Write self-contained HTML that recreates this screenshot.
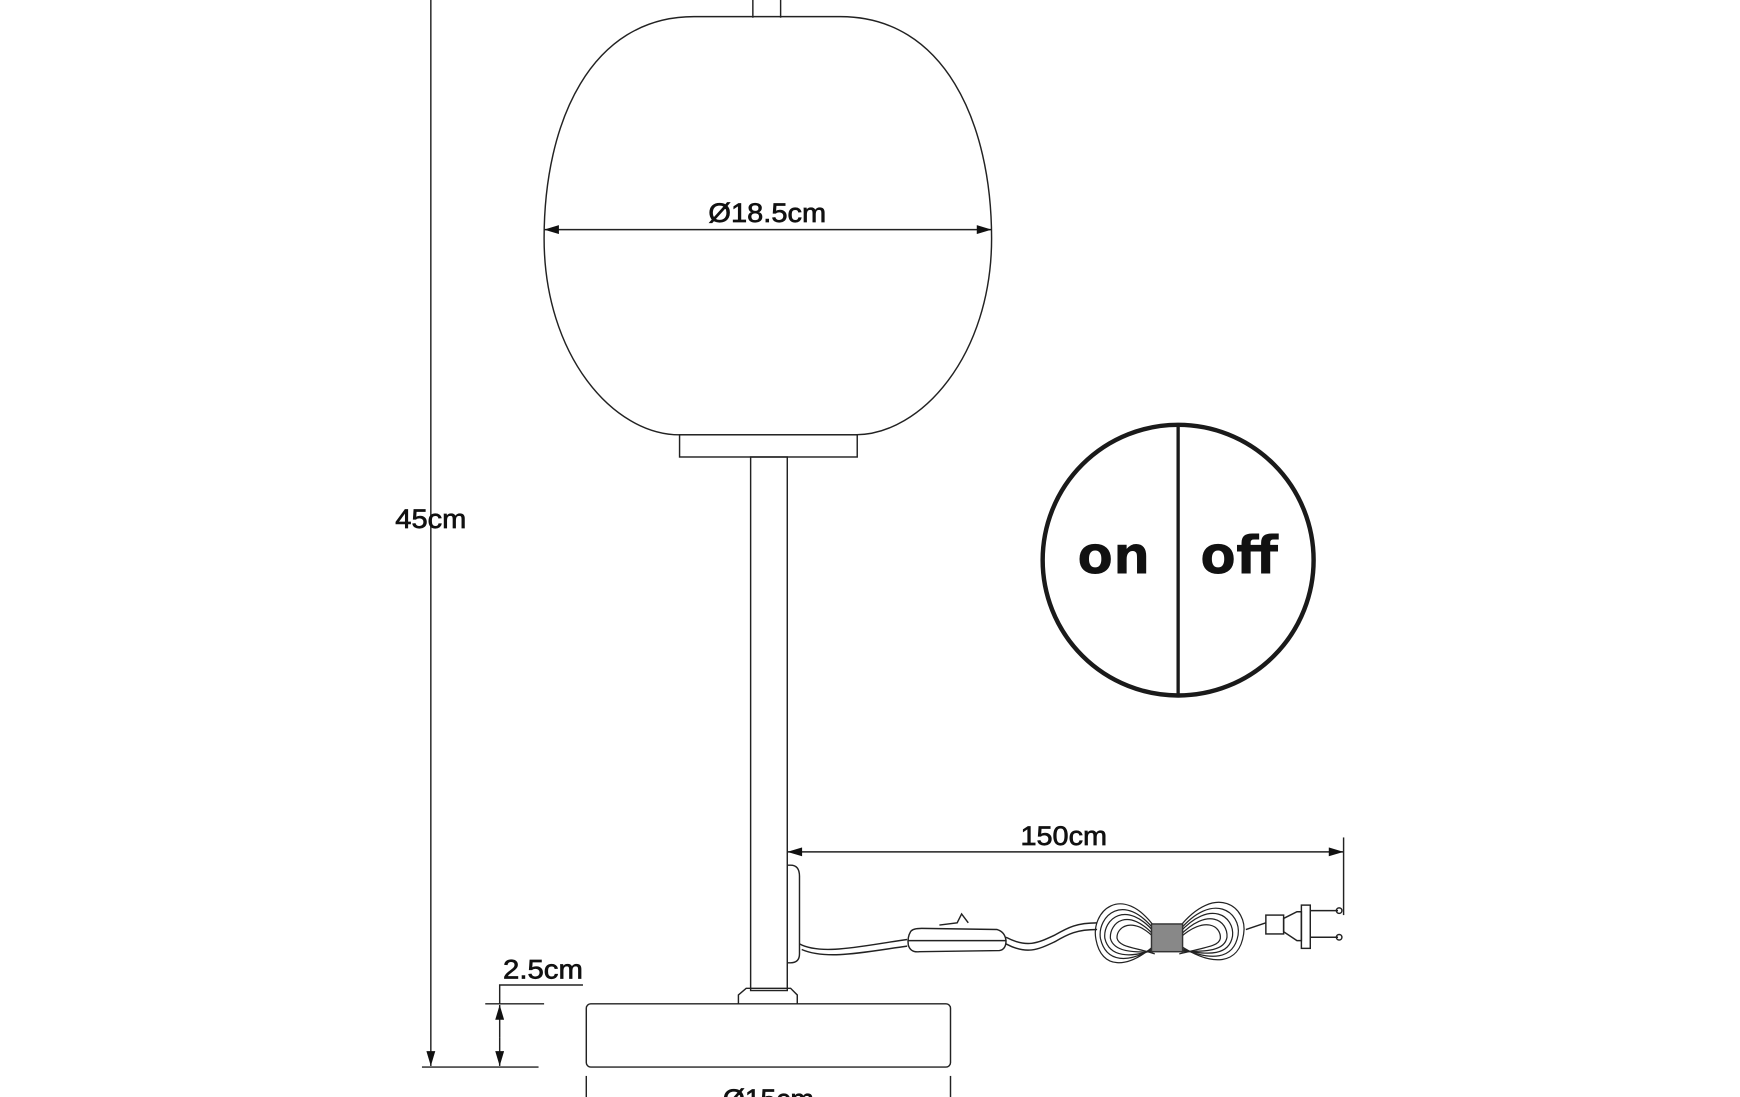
<!DOCTYPE html>
<html><head><meta charset="utf-8"><style>
html,body{margin:0;padding:0;background:#fff;}
svg{display:block;}
text{font-family:"Liberation Sans",sans-serif;fill:#111;}
</style></head><body>
<svg width="1740" height="1097" viewBox="0 0 1567 989" preserveAspectRatio="none" xmlns="http://www.w3.org/2000/svg">
<defs>
<marker id="a" viewBox="0 0 10 6" refX="10" refY="3" markerWidth="18" markerHeight="8" markerUnits="userSpaceOnUse" orient="auto-start-reverse"><path d="M0,0 L10,3 L0,6 Z" fill="#111"/></marker>
</defs>
<g fill="none" stroke="#222" stroke-width="1.3">
<line x1="388" y1="0" x2="388" y2="961" marker-end="url(#a)"/>
<line x1="380" y1="962" x2="485" y2="962"/>
<line x1="678" y1="0" x2="678" y2="16"/><line x1="703" y1="0" x2="703" y2="16"/>
<path d="M625,15 L757,15 C850,15 893,110 893,215 C893,320 830,392 770,392 L612,392 C552,392 490,320 490,215 C490,110 532,15 625,15 Z"/>
<line x1="490" y1="207" x2="893" y2="207" marker-start="url(#a)" marker-end="url(#a)"/>
<rect x="612" y="392" width="160" height="20"/>
<rect x="676" y="412" width="33" height="481"/>
<path d="M665,905 L665,897 L672,891 L712,891 L718,897 L718,905"/>
<rect x="528" y="905" width="328" height="57" rx="4"/>
<line x1="528" y1="970" x2="528" y2="989"/><line x1="856" y1="970" x2="856" y2="989"/>
<path d="M525,888 L450,888 L450,905"/>
<line x1="437" y1="905" x2="490" y2="905"/>
<line x1="450" y1="935" x2="450" y2="906" marker-end="url(#a)"/>
<line x1="450" y1="935" x2="450" y2="961" marker-end="url(#a)"/>
<line x1="709" y1="768" x2="1210" y2="768" marker-start="url(#a)" marker-end="url(#a)"/>
<line x1="1210" y1="755" x2="1210" y2="825"/>
<path d="M709,780 L712,780 Q720,780 720,790 L720,860 Q720,868 712,868 L709,868"/>
<path d="M720,851 C740,862 780,852 817,847"/><path d="M722,856 C745,866 780,858 817,853"/>
<path d="M820,840 Q817,845 818,852 Q820,859 828,858 L900,857 Q906,856 906,848 Q905,840 898,838 L830,837 Q822,837 820,840 Z"/>
<line x1="818" y1="848" x2="906" y2="848"/>
<path d="M846,834 L862,832 L866,824 L872,832"/>
<path d="M906,845 C925,855 935,850 950,843 C962,836 970,832 988,832"/>
<path d="M906,851 C925,861 935,856 950,849 C962,842 970,838 988,838"/>
<g stroke-width="1.1">
<path d="M1040,836 C1010,795 982,822 987,847 C992,874 1015,874 1040,852"/>
<path d="M1040,839 C1012,803 988,826 991,846 C996,868 1016,869 1040,854"/>
<path d="M1040,841 C1014,810 993,829 995,846 C999,863 1018,864 1040,856"/>
<path d="M1040,844 C1016,817 999,832 1000,846 C1003,858 1020,859 1040,858"/>
<path d="M1040,846 C1020,825 1005,836 1006,846 C1008,854 1022,854 1040,860"/>
<path d="M1062,836 C1095,795 1124,818 1120,842 C1116,870 1092,872 1062,852"/>
<path d="M1062,839 C1092,803 1118,822 1115,843 C1111,865 1091,867 1062,854"/>
<path d="M1062,841 C1090,810 1112,826 1110,844 C1107,861 1090,862 1062,856"/>
<path d="M1062,844 C1088,817 1106,830 1105,845 C1103,857 1088,858 1062,858"/>
<path d="M1062,846 C1085,825 1100,835 1099,846 C1098,853 1086,854 1062,860"/>
</g>
<rect x="1037" y="833" width="28" height="25" fill="#888" stroke="#333"/>
<path d="M1122,838 L1140,832"/>
<rect x="1140" y="825" width="16" height="17"/>
<path d="M1156,828 L1168,822 L1172,822 L1172,848 L1168,848 L1156,840 Z"/>
<rect x="1172" y="816" width="8" height="39"/>
<line x1="1180" y1="821" x2="1205" y2="821"/><line x1="1180" y1="845" x2="1205" y2="845"/>
<circle cx="1206" cy="821" r="2.5"/><circle cx="1206" cy="845" r="2.5"/>
</g>
<circle cx="1061" cy="505" r="122" fill="none" stroke="#1a1a1a" stroke-width="4"/>
<line x1="1061" y1="383" x2="1061" y2="627" stroke="#1a1a1a" stroke-width="3"/>
<text x="1003" y="517" font-size="47" text-anchor="middle" font-weight="bold" style="font-family:'DejaVu Sans',sans-serif">on</text>
<text x="1116" y="517" font-size="47" text-anchor="middle" font-weight="bold" style="font-family:'DejaVu Sans',sans-serif">off</text>
<g stroke="#111" stroke-width="0.6">
<text x="691" y="200" font-size="24" text-anchor="middle" textLength="106" lengthAdjust="spacingAndGlyphs">Ø18.5cm</text>
<text x="388" y="476" font-size="24" text-anchor="middle" textLength="64" lengthAdjust="spacingAndGlyphs">45cm</text>
<text x="958" y="762" font-size="24" text-anchor="middle" textLength="78" lengthAdjust="spacingAndGlyphs">150cm</text>
<text x="489" y="882" font-size="24" text-anchor="middle" textLength="72" lengthAdjust="spacingAndGlyphs">2.5cm</text>
<text x="692" y="999" font-size="24" text-anchor="middle" textLength="82" lengthAdjust="spacingAndGlyphs">Ø15cm</text>
</g>
</svg>
</body></html>
